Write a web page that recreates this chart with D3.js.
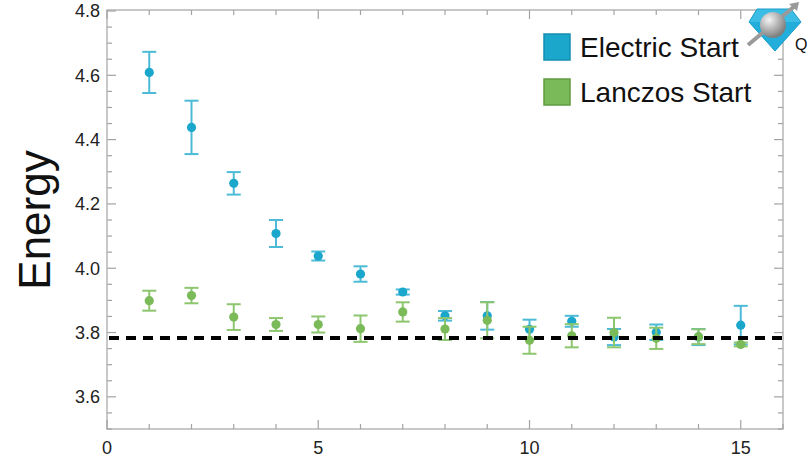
<!DOCTYPE html>
<html>
<head>
<meta charset="utf-8">
<script src="https://cdn.jsdelivr.net/npm/d3@7"></script>
<style>
  body { margin: 0; background: #fff; }
  text { font-family: "Liberation Sans", Arial, sans-serif; }
</style>
</head>
<body>
<script>
var steps = [1, 2, 3, 4, 5, 6, 7, 8, 9, 10, 11, 12, 13, 14, 15];
var electric = [4.609, 4.438, 4.264, 4.108, 4.038, 3.982, 3.926, 3.852, 3.852, 3.810, 3.835, 3.786, 3.801, 3.786, 3.823];
var electricErr = [0.064, 0.083, 0.035, 0.042, 0.014, 0.024, 0.008, 0.015, 0.043, 0.030, 0.017, 0.025, 0.024, 0.025, 0.060];
var lanczos = [3.899, 3.915, 3.848, 3.825, 3.825, 3.812, 3.864, 3.811, 3.838, 3.776, 3.790, 3.800, 3.782, 3.787, 3.763];
var lanczosErr = [0.031, 0.024, 0.040, 0.020, 0.025, 0.041, 0.030, 0.034, 0.056, 0.042, 0.036, 0.046, 0.033, 0.023, 0.006];
var exactEnergy = 3.783;
var seriesNames = ['Electric Start', 'Lanczos Start'];
var yTicks = [3.6, 3.8, 4.0, 4.2, 4.4, 4.6, 4.8];
var xTicks = [0, 5, 10, 15];

var width = 808, height = 462;
var plotLeft = 107, plotRight = 783, plotTop = 11, plotBottom = 429;

var svg = d3.select('body').append('svg')
  .attr('width', width)
  .attr('height', height);

var x = d3.scaleLinear().domain([0, 16]).range([plotLeft, plotRight]);
var y = d3.scaleLinear().domain([3.5, 4.8]).range([plotBottom, plotTop]);

var axisColor = '#a3a3a3';

// frame
svg.append('rect')
  .attr('x', plotLeft).attr('y', plotTop - 1)
  .attr('width', plotRight - plotLeft).attr('height', plotBottom - plotTop + 1)
  .attr('fill', 'none')
  .attr('stroke', axisColor)
  .attr('stroke-width', 1.2);

// ticks, pointing inward on all four sides
var xMinor = d3.range(0, 16.01, 1);
var yMinor = d3.range(3.5, 4.801, 0.05);
function isMajorX(v) { return Math.abs(v % 5) < 1e-6; }
function isMajorY(v) { return Math.abs(Math.round(v * 10) - v * 10) < 1e-6 && Math.round(v * 10) % 2 === 0; }

var ticks = svg.append('g').attr('stroke', axisColor).attr('stroke-width', 1.2);
xMinor.forEach(function(v) {
  var len = isMajorX(v) ? 9 : 5;
  ticks.append('line').attr('x1', x(v)).attr('x2', x(v)).attr('y1', plotBottom).attr('y2', plotBottom - len);
  ticks.append('line').attr('x1', x(v)).attr('x2', x(v)).attr('y1', plotTop - 1).attr('y2', plotTop - 1 + len);
});
yMinor.forEach(function(v) {
  var len = isMajorY(v) ? 9 : 5;
  ticks.append('line').attr('x1', plotLeft).attr('x2', plotLeft + len).attr('y1', y(v)).attr('y2', y(v));
  ticks.append('line').attr('x1', plotRight).attr('x2', plotRight - len).attr('y1', y(v)).attr('y2', y(v));
});

// tick labels
svg.append('g').selectAll('text')
  .data(yTicks)
  .enter().append('text')
  .attr('x', plotLeft - 7)
  .attr('y', function(d) { return y(d); })
  .attr('dy', '0.36em')
  .attr('text-anchor', 'end')
  .attr('font-size', 18)
  .attr('fill', '#222')
  .text(function(d) { return d3.format('.1f')(d); });

svg.append('g').selectAll('text')
  .data(xTicks)
  .enter().append('text')
  .attr('x', function(d) { return x(d); })
  .attr('y', 454)
  .attr('text-anchor', 'middle')
  .attr('font-size', 18)
  .attr('fill', '#222')
  .text(function(d) { return d; });

// y title
svg.append('text')
  .attr('transform', 'translate(50,220) rotate(-90)')
  .attr('text-anchor', 'middle')
  .attr('font-size', 44)
  .attr('fill', '#111')
  .text('Energy');

// error bar series
function drawSeries(vals, errs, dotColor, barColor) {
  var g = svg.append('g');
  var d = steps.map(function(s, i) { return { s: s, v: vals[i], e: errs[i] }; });
  var pts = g.selectAll('.pt').data(d).enter().append('g');
  pts.append('line')
    .attr('x1', function(p) { return x(p.s); }).attr('x2', function(p) { return x(p.s); })
    .attr('y1', function(p) { return y(p.v - p.e); }).attr('y2', function(p) { return y(p.v + p.e); })
    .attr('stroke', barColor).attr('stroke-width', 2);
  [-1, 1].forEach(function(sign) {
    pts.append('line')
      .attr('x1', function(p) { return x(p.s) - 7; }).attr('x2', function(p) { return x(p.s) + 7; })
      .attr('y1', function(p) { return y(p.v + sign * p.e); }).attr('y2', function(p) { return y(p.v + sign * p.e); })
      .attr('stroke', barColor).attr('stroke-width', 2);
  });
  pts.append('circle')
    .attr('cx', function(p) { return x(p.s); })
    .attr('cy', function(p) { return y(p.v); })
    .attr('r', 4.6)
    .attr('fill', dotColor);
}

drawSeries(electric, electricErr, '#1ba6cc', '#4dbbd8');
drawSeries(lanczos, lanczosErr, '#7aba58', '#8dc66e');

// exact energy reference
svg.append('line')
  .attr('x1', plotLeft + 2).attr('x2', plotRight)
  .attr('y1', y(exactEnergy)).attr('y2', y(exactEnergy))
  .attr('stroke', '#000')
  .attr('stroke-width', 4)
  .attr('stroke-dasharray', '10,7');

// legend
var legend = svg.append('g');
var legColors = [['#1ba6cc', '#158fb0'], ['#7aba58', '#5f9c40']];
seriesNames.forEach(function(name, i) {
  var yy = 34 + i * 45;
  legend.append('rect')
    .attr('x', 544).attr('y', yy)
    .attr('width', 26).attr('height', 26)
    .attr('fill', legColors[i][0])
    .attr('stroke', legColors[i][1])
    .attr('stroke-width', 1.5);
  legend.append('text')
    .attr('x', 580).attr('y', yy + 13)
    .attr('dy', '0.36em')
    .attr('font-size', 28)
    .attr('fill', '#111')
    .text(name);
});

// small logo in the corner
var defs = svg.append('defs');
var grad = defs.append('radialGradient').attr('id', 'ball').attr('cx', '35%').attr('cy', '30%').attr('r', '70%');
grad.append('stop').attr('offset', '0%').attr('stop-color', '#f4f4f4');
grad.append('stop').attr('offset', '100%').attr('stop-color', '#7d7d7d');
var logo = svg.append('g');
logo.append('path')
  .attr('d', 'M757,9 L791,9 L801,22 L775,51 L749,22 Z')
  .attr('fill', '#3bbde6').attr('stroke', '#1b9dc8').attr('stroke-width', 1);
logo.append('path')
  .attr('d', 'M749,22 L801,22 L775,51 Z')
  .attr('fill', '#1aa6d6').attr('opacity', 0.7);
logo.append('line')
  .attr('x1', 748).attr('y1', 45).attr('x2', 796).attr('y2', 5)
  .attr('stroke', '#9a9a9a').attr('stroke-width', 4);
logo.append('path')
  .attr('d', 'M799,2 L789,4 L797,11 Z')
  .attr('fill', '#9a9a9a');
logo.append('circle')
  .attr('cx', 773).attr('cy', 25).attr('r', 13)
  .attr('fill', 'url(#ball)');
logo.append('text')
  .attr('x', 795).attr('y', 50)
  .attr('font-size', 16)
  .attr('fill', '#111')
  .text('Q');
</script>
</body>
</html>
